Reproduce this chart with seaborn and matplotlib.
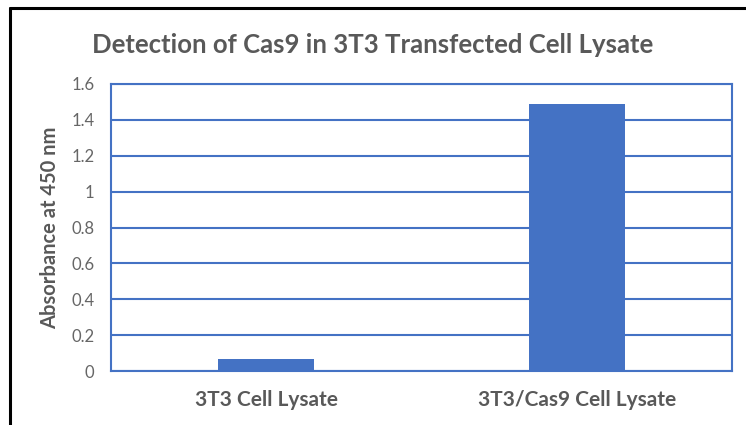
import matplotlib
matplotlib.use('Agg')
import matplotlib.pyplot as plt
import seaborn as sns
import pandas as pd
from matplotlib.lines import Line2D

# data
samples = ['3T3 Cell Lysate', '3T3/Cas9 Cell Lysate']
absorbance = [0.065, 1.488]
y_ticks = [0, 0.2, 0.4, 0.6, 0.8, 1, 1.2, 1.4, 1.6]

df = pd.DataFrame({'sample': samples, 'absorbance': absorbance})

sns.set_style('white')
plt.rcParams['font.family'] = ['Lato', 'DejaVu Sans']

blue = '#4472C4'
grey = '#595959'

fig = plt.figure(figsize=(7.46, 4.25), dpi=100)
ax = fig.add_axes([111 / 746, 1 - 371 / 425, (732 - 111) / 746, (371 - 84) / 425])

sns.barplot(data=df, x='sample', y='absorbance', color=blue, width=0.31,
            saturation=1, linewidth=0, ax=ax, zorder=3)

ax.set_xlim(-0.5, 1.5)
ax.set_ylim(0, 1.6)
ax.set_yticks(y_ticks)
ax.set_yticklabels([f'{t:g}' for t in y_ticks])
ax.yaxis.grid(True, color=blue, linewidth=1.5, zorder=0)
ax.set_axisbelow(True)
for s in ax.spines.values():
    s.set_color(blue)
    s.set_linewidth(1.5)
ax.tick_params(axis='y', length=0, pad=12, labelsize=12, labelcolor='#666666')
ax.tick_params(axis='x', length=0, pad=14, labelsize=15, labelcolor=grey)
for lbl in ax.get_xticklabels():
    lbl.set_fontweight('bold')

ax.set_xlabel('')
ax.set_ylabel('Absorbance at 450 nm', fontsize=14.5, fontweight='bold', color=grey, labelpad=8)

fig.text(373 / 746, 1 - 45 / 425, 'Detection of Cas9 in 3T3 Transfected Cell Lysate',
         ha='center', va='center', fontsize=18.5, fontweight='bold', color=grey)

# black outer frame (left and top edges visible in the crop)
fig.add_artist(Line2D([10 / 746, 10 / 746], [0, 1 - 8 / 425], color='black', linewidth=2.2,
                      transform=fig.transFigure))
fig.add_artist(Line2D([10 / 746, 1], [1 - 8 / 425, 1 - 8 / 425], color='black', linewidth=2.2,
                      transform=fig.transFigure))

fig.savefig('out.png', dpi=100)
